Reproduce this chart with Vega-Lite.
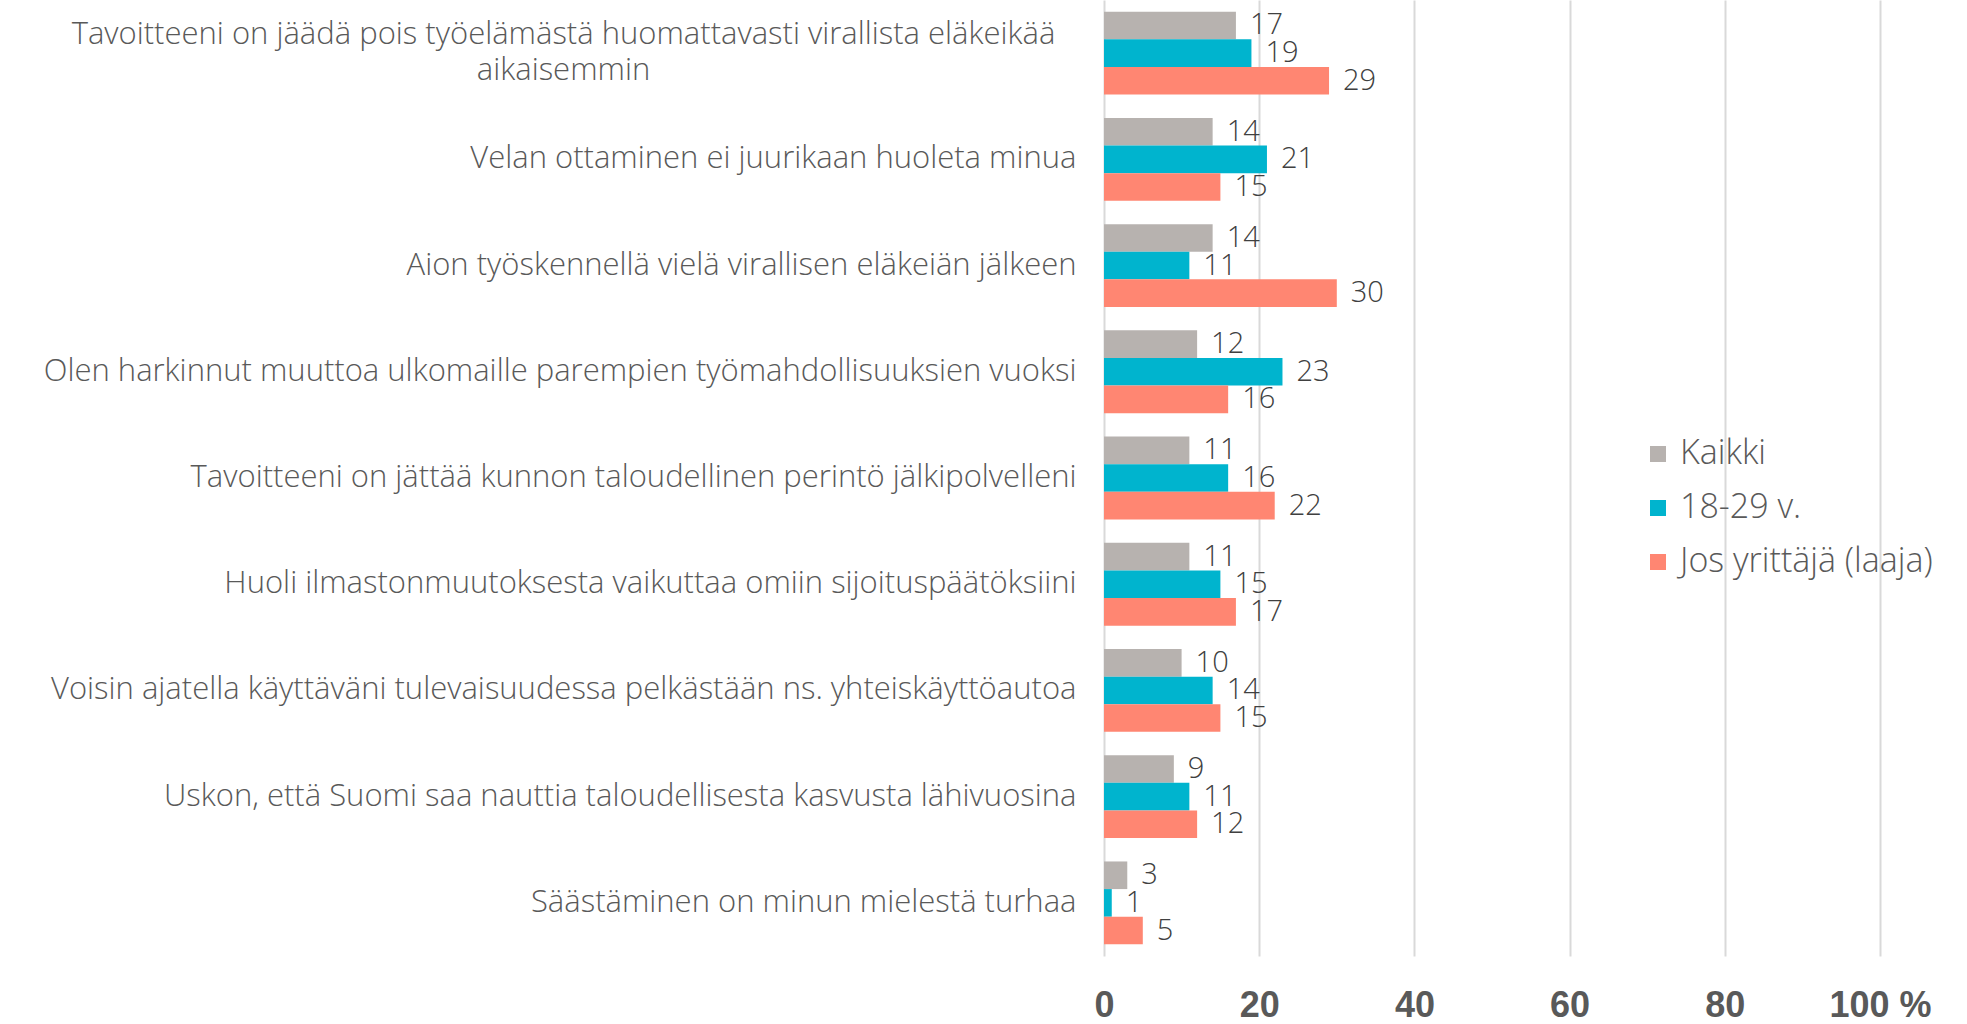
{
  "$schema": "https://vega.github.io/schema/vega-lite/v6.json",
  "width": 776,
  "height": 956,
  "autosize": {"type": "none"},
  "padding": {"left": 1104, "top": 0, "right": 87, "bottom": 68},
  "background": "white",
  "config": {"view": {"stroke": null}, "font": "Open Sans"},
  "data": {
    "values": [
      {"kysymys": "Tavoitteeni on jäädä pois työelämästä huomattavasti virallista eläkeikää aikaisemmin", "ryhma": "Kaikki", "arvo": 17},
      {"kysymys": "Tavoitteeni on jäädä pois työelämästä huomattavasti virallista eläkeikää aikaisemmin", "ryhma": "18-29 v.", "arvo": 19},
      {"kysymys": "Tavoitteeni on jäädä pois työelämästä huomattavasti virallista eläkeikää aikaisemmin", "ryhma": "Jos yrittäjä (laaja)", "arvo": 29},
      {"kysymys": "Velan ottaminen ei juurikaan huoleta minua", "ryhma": "Kaikki", "arvo": 14},
      {"kysymys": "Velan ottaminen ei juurikaan huoleta minua", "ryhma": "18-29 v.", "arvo": 21},
      {"kysymys": "Velan ottaminen ei juurikaan huoleta minua", "ryhma": "Jos yrittäjä (laaja)", "arvo": 15},
      {"kysymys": "Aion työskennellä vielä virallisen eläkeiän jälkeen", "ryhma": "Kaikki", "arvo": 14},
      {"kysymys": "Aion työskennellä vielä virallisen eläkeiän jälkeen", "ryhma": "18-29 v.", "arvo": 11},
      {"kysymys": "Aion työskennellä vielä virallisen eläkeiän jälkeen", "ryhma": "Jos yrittäjä (laaja)", "arvo": 30},
      {"kysymys": "Olen harkinnut muuttoa ulkomaille parempien työmahdollisuuksien vuoksi", "ryhma": "Kaikki", "arvo": 12},
      {"kysymys": "Olen harkinnut muuttoa ulkomaille parempien työmahdollisuuksien vuoksi", "ryhma": "18-29 v.", "arvo": 23},
      {"kysymys": "Olen harkinnut muuttoa ulkomaille parempien työmahdollisuuksien vuoksi", "ryhma": "Jos yrittäjä (laaja)", "arvo": 16},
      {"kysymys": "Tavoitteeni on jättää kunnon taloudellinen perintö jälkipolvelleni", "ryhma": "Kaikki", "arvo": 11},
      {"kysymys": "Tavoitteeni on jättää kunnon taloudellinen perintö jälkipolvelleni", "ryhma": "18-29 v.", "arvo": 16},
      {"kysymys": "Tavoitteeni on jättää kunnon taloudellinen perintö jälkipolvelleni", "ryhma": "Jos yrittäjä (laaja)", "arvo": 22},
      {"kysymys": "Huoli ilmastonmuutoksesta vaikuttaa omiin sijoituspäätöksiini", "ryhma": "Kaikki", "arvo": 11},
      {"kysymys": "Huoli ilmastonmuutoksesta vaikuttaa omiin sijoituspäätöksiini", "ryhma": "18-29 v.", "arvo": 15},
      {"kysymys": "Huoli ilmastonmuutoksesta vaikuttaa omiin sijoituspäätöksiini", "ryhma": "Jos yrittäjä (laaja)", "arvo": 17},
      {"kysymys": "Voisin ajatella käyttäväni tulevaisuudessa pelkästään ns. yhteiskäyttöautoa", "ryhma": "Kaikki", "arvo": 10},
      {"kysymys": "Voisin ajatella käyttäväni tulevaisuudessa pelkästään ns. yhteiskäyttöautoa", "ryhma": "18-29 v.", "arvo": 14},
      {"kysymys": "Voisin ajatella käyttäväni tulevaisuudessa pelkästään ns. yhteiskäyttöautoa", "ryhma": "Jos yrittäjä (laaja)", "arvo": 15},
      {"kysymys": "Uskon, että Suomi saa nauttia taloudellisesta kasvusta lähivuosina", "ryhma": "Kaikki", "arvo": 9},
      {"kysymys": "Uskon, että Suomi saa nauttia taloudellisesta kasvusta lähivuosina", "ryhma": "18-29 v.", "arvo": 11},
      {"kysymys": "Uskon, että Suomi saa nauttia taloudellisesta kasvusta lähivuosina", "ryhma": "Jos yrittäjä (laaja)", "arvo": 12},
      {"kysymys": "Säästäminen on minun mielestä turhaa", "ryhma": "Kaikki", "arvo": 3},
      {"kysymys": "Säästäminen on minun mielestä turhaa", "ryhma": "18-29 v.", "arvo": 1},
      {"kysymys": "Säästäminen on minun mielestä turhaa", "ryhma": "Jos yrittäjä (laaja)", "arvo": 5}
    ]
  },
  "encoding": {
    "y": {
      "field": "kysymys",
      "type": "nominal",
      "sort": null,
      "scale": {"paddingInner": 0.22, "paddingOuter": 0.11},
      "axis": {
        "title": null,
        "domain": false,
        "ticks": false,
        "grid": false,
        "labelFontSize": 31,
        "labelFontWeight": 300,
        "labelColor": "#595959",
        "labelLimit": 1300,
        "labelLineHeight": 36,
        "labelExpr": "indexof(datum.value, 'aikaisemmin') >= 0 ? ['Tavoitteeni on jäädä pois työelämästä huomattavasti virallista eläkeikää', 'aikaisemmin'] : datum.label",
        "labelAlign": {"condition": {"test": "indexof(datum.value, 'aikaisemmin') >= 0", "value": "center"}, "value": "right"},
        "labelPadding": {"condition": {"test": "indexof(datum.value, 'aikaisemmin') >= 0", "value": 541}, "value": 28},
        "labelOffset": {"condition": {"test": "indexof(datum.value, 'aikaisemmin') >= 0", "value": -18}, "value": 0}
      }
    },
    "yOffset": {
      "field": "ryhma",
      "type": "nominal",
      "sort": ["Kaikki", "18-29 v.", "Jos yrittäjä (laaja)"],
      "scale": {"paddingInner": 0, "paddingOuter": 0}
    },
    "x": {
      "field": "arvo",
      "type": "quantitative",
      "scale": {"domain": [0, 100], "nice": false},
      "axis": {
        "title": null,
        "values": [0, 20, 40, 60, 80, 100],
        "grid": true,
        "gridColor": "#D9D9D9",
        "gridWidth": 2,
        "domain": false,
        "ticks": false,
        "labelFlush": false,
        "labelFont": "Liberation Sans",
        "labelFontSize": 36,
        "labelFontWeight": "bold",
        "labelColor": "#595959",
        "labelPadding": 32,
        "labelExpr": "datum.value == 100 ? '100 %' : datum.label"
      }
    }
  },
  "layer": [
    {
      "mark": {"type": "bar"},
      "encoding": {
        "color": {
          "field": "ryhma",
          "type": "nominal",
          "scale": {"domain": ["Kaikki", "18-29 v.", "Jos yrittäjä (laaja)"], "range": ["#B7B2AF", "#00B4CE", "#FF8672"]},
          "legend": {
            "title": null,
            "orient": "none",
            "legendX": 537,
            "legendY": 437,
            "symbolType": "square",
            "symbolSize": 256,
            "symbolStrokeWidth": 0,
            "labelFontSize": 34,
            "labelFontWeight": 300,
            "labelColor": "#595959",
            "labelLimit": 400,
            "labelOffset": 5,
            "rowPadding": 20
          }
        }
      }
    },
    {
      "mark": {"type": "text", "align": "left", "baseline": "middle", "dx": 14, "fontSize": 29, "fontWeight": 300, "color": "#404040"},
      "encoding": {"text": {"field": "arvo", "type": "quantitative"}}
    }
  ]
}
